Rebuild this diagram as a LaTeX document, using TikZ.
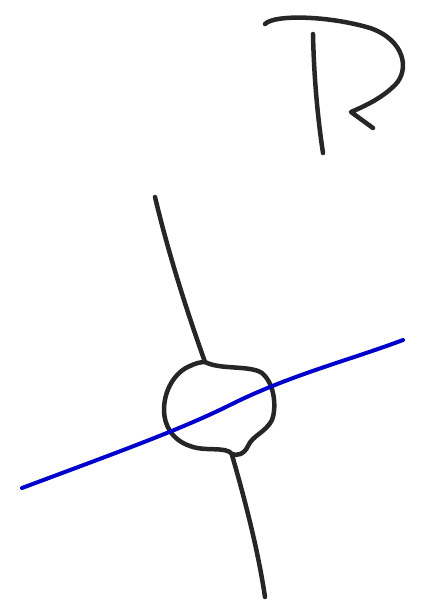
\documentclass[tikz,border=0pt]{standalone}
\begin{document}
\begin{tikzpicture}[x=1pt,y=-1pt,
  ink/.style={draw=black!85,line width=4.5pt,line cap=round,line join=round},
  blueink/.style={draw=blue!80!black,line width=4pt,line cap=round}]
\useasboundingbox (0,0) rectangle (423,613);
% hand-drawn R
\draw[ink] (265,24) .. controls (275,14) and (330,16) .. (370,28)
  .. controls (405,40) and (410,70) .. (395,85)
  .. controls (380,100) and (360,108) .. (351,112) -- (373,128);
\draw[ink] (313,34) .. controls (314,80) and (318,120) .. (323,153);
% vertical line (upper part)
\draw[ink] (155,197) .. controls (170,260) and (190,320) .. (205,362);
% blob
\draw[ink] (205,362) .. controls (220,370) and (250,365) .. (262,373)
  .. controls (276,385) and (276,410) .. (272,420)
  .. controls (266,432) and (252,436) .. (248,446)
  .. controls (244,455) and (236,456) .. (232,454)
  .. controls (226,446) and (205,452) .. (190,446)
  .. controls (172,440) and (164,425) .. (164,410)
  .. controls (164,390) and (175,372) .. (190,366)
  .. controls (196,363) and (201,362) .. (205,362);
% vertical line (lower part)
\draw[ink] (232,455) .. controls (245,500) and (258,550) .. (265,597);
% blue line
\draw[blueink] (22,488) .. controls (110,455) and (180,430) .. (230,405)
  .. controls (290,375) and (350,360) .. (403,340);
\end{tikzpicture}
\end{document}
